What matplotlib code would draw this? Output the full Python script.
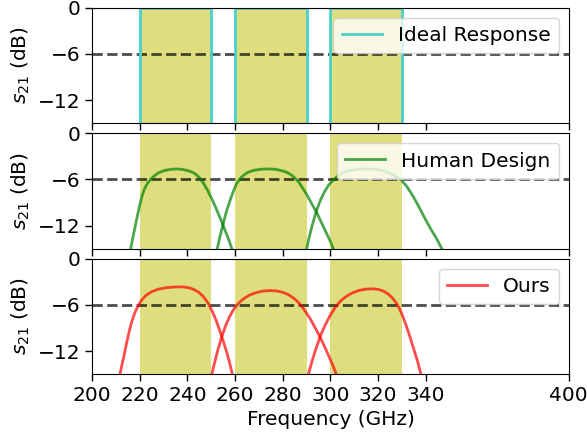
import numpy as np
import matplotlib
matplotlib.use('Agg')
import matplotlib.pyplot as plt

# passbands (GHz)
bands = [(220, 250), (260, 290), (300, 330)]

# ideal filter response: 0 dB inside each band, far below the axis outside
ideal_freq = [220, 220, 250, 250, 260, 260, 290, 290, 300, 300, 330, 330]
ideal_s21 = [-40, 0, 0, -40, -40, 0, 0, -40, -40, 0, 0, -40]

# human design, one curve per channel
human_freq_1 = [216.0, 217.0, 218.0, 219.0, 220.0, 221.0, 222.0, 223.2, 224.5, 226.0, 228.0, 230.5, 233.0, 235.5,
                238.0, 240.5, 242.5, 244.0, 245.5, 247.0, 248.5, 250.0, 251.5, 253.0, 254.5, 256.0, 257.5, 258.9]
human_s21_1 = [-15.3, -13.7, -12.2, -10.7, -9.3, -8.1, -7.2, -6.5, -6.0, -5.55, -5.1, -4.82, -4.68, -4.63,
               -4.7, -4.88, -5.12, -5.45, -5.95, -6.65, -7.45, -8.4, -9.4, -10.5, -11.6, -12.8, -14.0, -15.3]
human_freq_2 = [252.3, 253.5, 254.8, 256.3, 257.9, 259.3, 260.5, 261.8, 263.5, 265.5, 268.0, 271.0, 274.0, 277.0,
                279.5, 281.6, 283.5, 285.2, 286.8, 288.5, 290.3, 292.2, 294.2, 296.2, 298.3, 300.0, 301.5]
human_s21_2 = [-15.3, -13.6, -12.0, -10.2, -8.7, -7.5, -6.6, -6.0, -5.45, -5.05, -4.8, -4.67, -4.63, -4.68,
               -4.85, -5.05, -5.4, -5.85, -6.4, -7.2, -8.1, -9.2, -10.3, -11.6, -13.0, -14.1, -15.3]
human_freq_3 = [289.8, 291.0, 292.5, 294.2, 295.8, 297.5, 299.3, 301.2, 303.2, 305.5, 308.0, 311.0, 314.0,
                317.0, 320.0, 322.5, 325.0, 327.5, 329.8, 332.0, 334.5, 337.0, 339.5, 342.0, 344.5, 347.2]
human_s21_3 = [-15.3, -13.6, -11.8, -10.0, -8.7, -7.6, -6.7, -6.05, -5.5, -5.1, -4.82, -4.68, -4.63,
               -4.63, -4.72, -4.9, -5.2, -5.6, -6.1, -6.9, -8.1, -9.5, -11.0, -12.4, -13.7, -15.3]

# optimised design
ours_freq_1 = [211.5, 212.5, 213.5, 214.5, 215.5, 216.6, 217.8, 219.2, 220.8, 222.6, 224.8, 227.5, 230.5, 233.5,
               236.5, 239.0, 241.0, 242.8, 244.5, 246.0, 247.5, 249.0, 250.5, 252.0, 253.5, 255.0, 256.5,
               257.8, 259.0]
ours_s21_1 = [-15.3, -13.8, -12.4, -10.9, -9.5, -8.2, -7.1, -6.15, -5.35, -4.75, -4.3, -3.97, -3.78, -3.68,
              -3.64, -3.68, -3.8, -4.0, -4.3, -4.7, -5.25, -5.95, -6.9, -8.0, -9.3, -10.7, -12.2,
              -13.7, -15.3]
ours_freq_2 = [250.0, 251.3, 252.8, 254.4, 256.0, 257.7, 259.5, 261.5, 263.5, 265.8, 268.5, 271.5, 274.5, 277.5,
               280.0, 282.3, 284.5, 286.3, 288.0, 289.8, 291.7, 293.6, 295.5, 297.5, 299.5, 301.3, 302.8]
ours_s21_2 = [-15.3, -13.6, -11.8, -10.1, -8.7, -7.5, -6.5, -5.75, -5.2, -4.75, -4.42, -4.2, -4.12, -4.18,
              -4.35, -4.65, -5.1, -5.6, -6.2, -7.0, -7.9, -9.0, -10.1, -11.4, -12.8, -14.1, -15.3]
ours_freq_3 = [290.5, 292.0, 293.8, 295.8, 297.8, 299.8, 301.8, 304.0, 306.3, 309.0, 312.0, 315.0, 317.5,
               320.0, 322.3, 324.3, 326.0, 327.5, 329.0, 330.5, 332.0, 333.5, 335.0, 336.5, 338.2]
ours_s21_3 = [-15.3, -13.6, -11.8, -10.0, -8.6, -7.4, -6.4, -5.55, -4.95, -4.45, -4.1, -3.93, -3.9,
              -3.97, -4.2, -4.6, -5.1, -5.7, -6.5, -7.6, -8.9, -10.3, -11.8, -13.3, -15.3]

xticks = [200, 220, 240, 260, 280, 300, 320, 340, 400]
yticks = [0, -6, -12]


def style_axis(ax):
    for lo, hi in bands:
        ax.axvspan(lo, hi, color='y', alpha=0.5, lw=0, zorder=0)
    ax.axhline(-6, color='k', alpha=0.7, ls='--', lw=2, zorder=1)
    ax.set_xlim(200, 400)
    ax.set_ylim(-15, 0)
    ax.set_xticks(xticks)
    ax.set_yticks(yticks)
    ax.set_ylabel('$s_{21}$ (dB)')
    ax.tick_params(length=5, width=1)


def main():
    plt.rcParams['font.family'] = ['DejaVu Sans']
    plt.rcParams['font.size'] = 14.5
    plt.rcParams['mathtext.fontset'] = 'dejavusans'

    fig, axes = plt.subplots(3, 1, figsize=(5.87, 4.38), dpi=100, sharex=True)
    fig.subplots_adjust(left=0.157, right=0.969, top=0.982, bottom=0.146, hspace=0.09)

    ax = axes[0]
    style_axis(ax)
    ax.plot(ideal_freq, ideal_s21, color='mediumturquoise', lw=2, label='Ideal Response', zorder=2)
    ax.legend(loc='upper right', fontsize=14.5)

    ax = axes[1]
    style_axis(ax)
    ax.plot(human_freq_1, human_s21_1, color='g', alpha=0.7, lw=2, label='Human Design', zorder=2)
    ax.plot(human_freq_2, human_s21_2, color='g', alpha=0.7, lw=2, zorder=2)
    ax.plot(human_freq_3, human_s21_3, color='g', alpha=0.7, lw=2, zorder=2)
    ax.legend(loc='upper right', fontsize=14.5)

    ax = axes[2]
    style_axis(ax)
    ax.plot(ours_freq_1, ours_s21_1, color='r', alpha=0.7, lw=2, label='Ours', zorder=2)
    ax.plot(ours_freq_2, ours_s21_2, color='r', alpha=0.7, lw=2, zorder=2)
    ax.plot(ours_freq_3, ours_s21_3, color='r', alpha=0.7, lw=2, zorder=2)
    ax.legend(loc='upper right', fontsize=14.5)
    ax.set_xlabel('Frequency (GHz)')

    fig.savefig('out.png', dpi=100)
    plt.close(fig)


if __name__ == '__main__':
    main()
